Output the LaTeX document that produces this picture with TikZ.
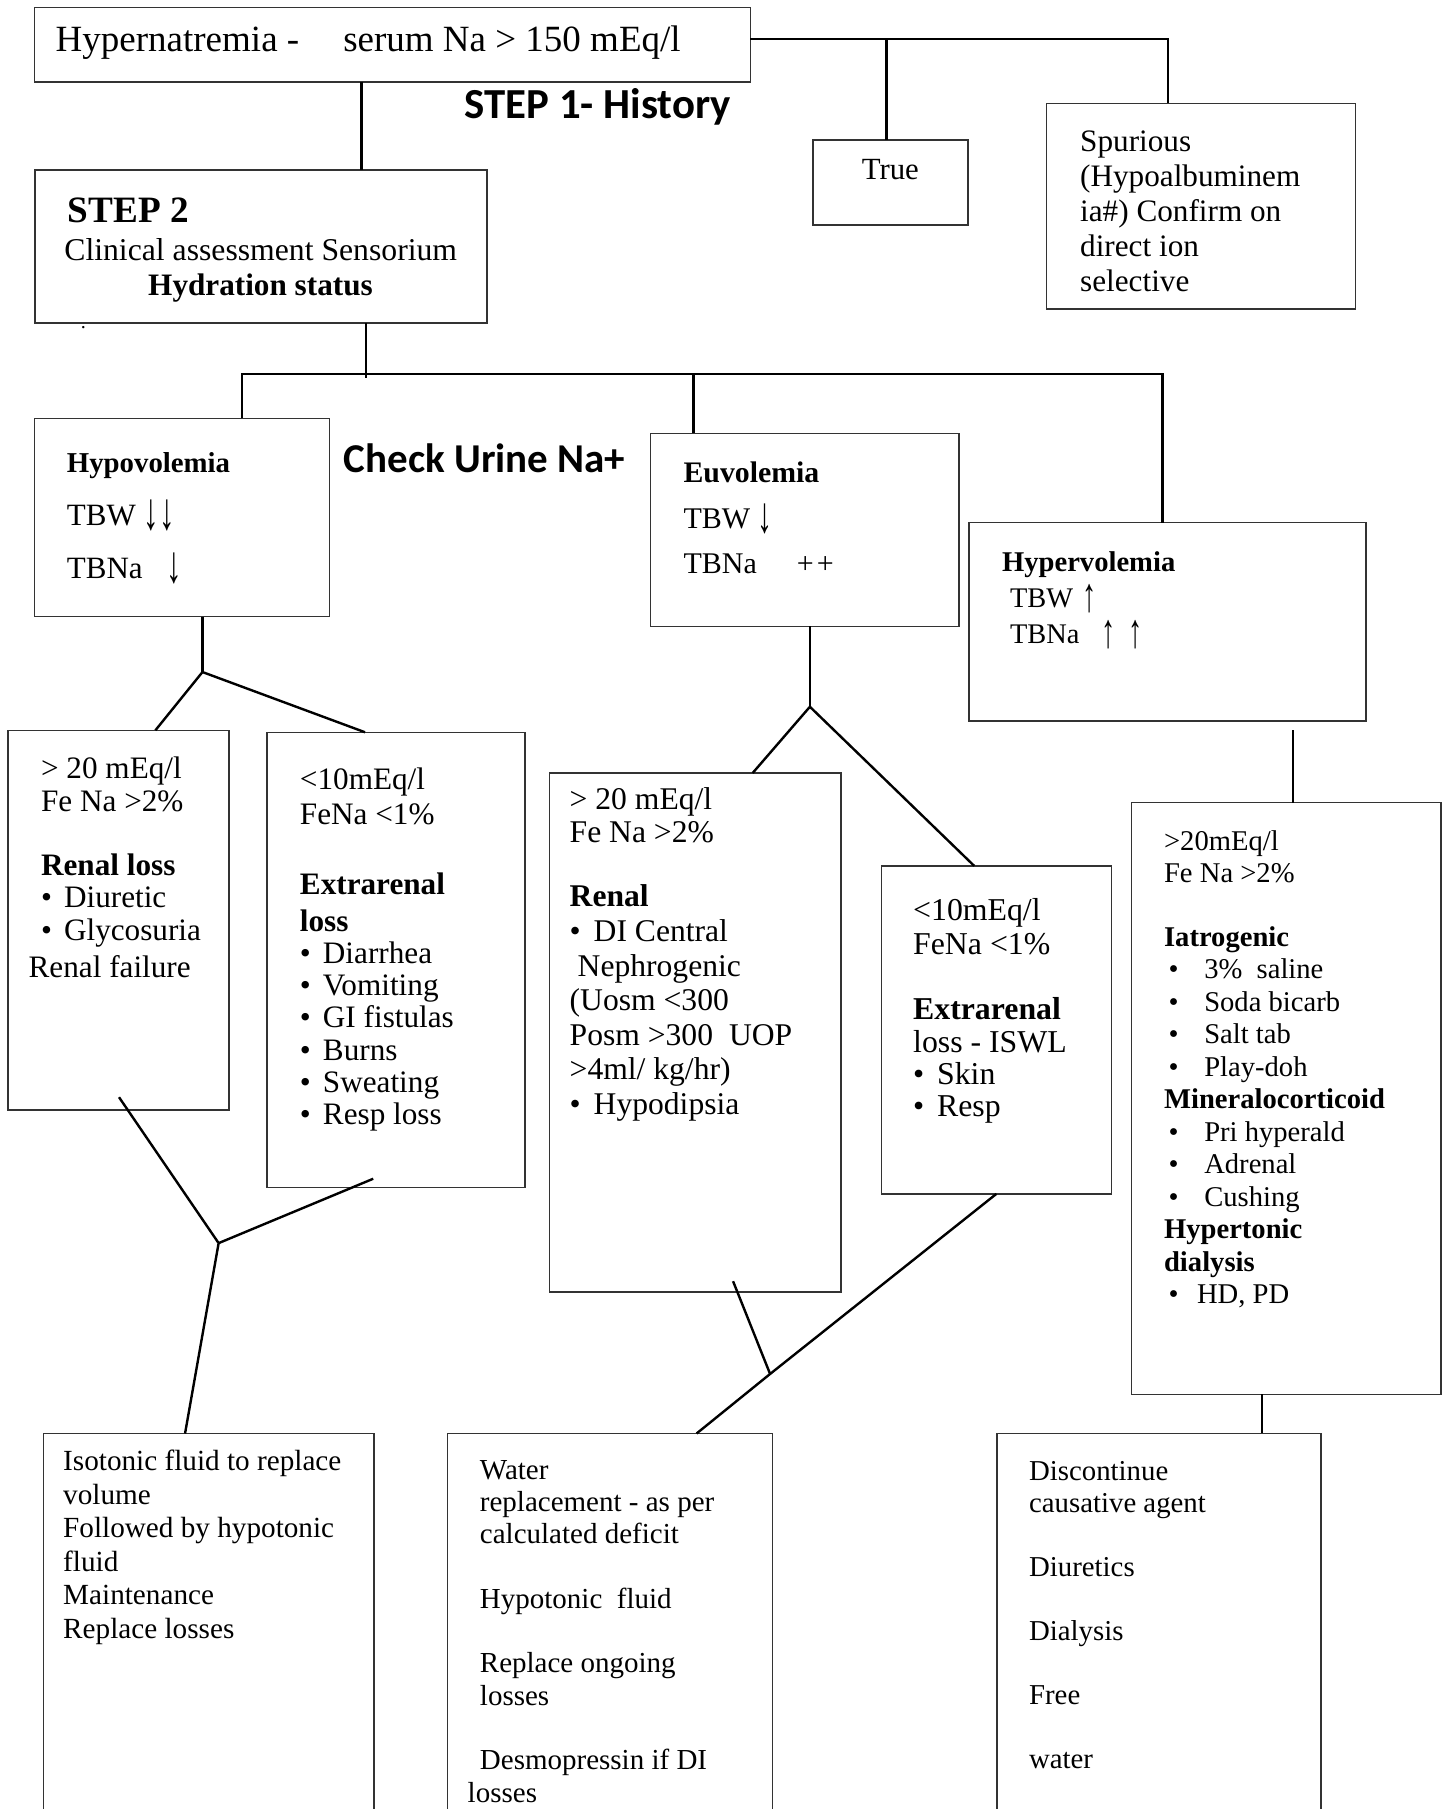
\documentclass[tikz,border=0pt]{standalone}
\usepackage{fontspec}
\usepackage{graphicx}
\setmainfont{Liberation Serif}
\newfontfamily\headfont{Carlito}
\usetikzlibrary{fit,calc}
% bullet of a given width, text follows it
\newcommand\itemdot[1]{\makebox[#1][l]{•}}
% a block of lines whose baseline is the first line's baseline
\newcommand\boxlines[1]{\parbox[t]{260pt}{\raggedright #1}}
% tall thin arrows
\newcommand\arrdn{\raisebox{-2pt}{\scalebox{1}[1.7]{↓}}}
\newcommand\arrup{\raisebox{-2pt}{\scalebox{1}[1.7]{↑}}}

\begin{document}
\begin{tikzpicture}[
  x=0.57675pt, y=-0.57675pt,
  box/.style={draw=black!80, line width=0.7pt, inner sep=0pt, outer sep=0pt},
  link/.style={draw=black, line width=1.2pt},
  txt/.style={anchor=base west, inner sep=0pt, outer sep=0pt},
  ctxt/.style={anchor=base, inner sep=0pt, outer sep=0pt},
  head/.style={font=\headfont\bfseries\fontsize{#1}{24pt}\selectfont}
]
\useasboundingbox (0,0) rectangle (1251,1568);

% ---------- boxes ----------
\node[box, fit={(30,6.4) (650.5,71)}] (top) {};
\node[box, fit={(704.8,121.4) (839,195)}] (true) {};
\node[box, fit={(907.3,89.6) (1175,268)}] (spur) {};
\node[box, fit={(30.3,147.4) (422,280)}] (step2) {};
\node[box, fit={(30,362.7) (285.6,534.6)}] (hypo) {};
\node[box, fit={(563.6,375.6) (831.4,543)}] (eu) {};
\node[box, fit={(840,453) (1184,624.8)}] (hyper) {};
\node[box, fit={(6.8,633) (198.5,962)}] (rl) {};
\node[box, fit={(231.6,634.7) (455,1029.5)}] (er) {};
\node[box, fit={(476.5,670) (729,1120)}] (m1) {};
\node[box, fit={(763.8,750.5) (963.5,1034.8)}] (m2) {};
\node[box, fit={(981,695.6) (1249,1208.5)}] (iat) {};
\node[box, fit={(37.5,1242.5) (324,1600)}] (b1) {};
\node[box, fit={(388,1242.5) (669.8,1600)}] (b2) {};
\node[box, fit={(864,1242.5) (1145,1600)}] (b3) {};

% ---------- texts ----------
\node[txt, font=\fontsize{18.5pt}{22pt}\selectfont] (topT) at (48.3,44.8)
  {Hypernatremia -\hspace{22pt}serum Na > 150 mEq/l};
\node[txt, head=21.4pt] (hist) at (403,103) {STEP 1- History};
\node[txt, font=\fontsize{15.4pt}{18pt}\selectfont] (trueT) at (747,156) {True};
\node[txt, font=\fontsize{15.6pt}{17.5pt}\selectfont] (spurT) at (936.3,131.5)
  {\boxlines{Spurious\\ (Hypoalbuminem\\ ia\#) Confirm on\\ direct ion\\ selective}};

\node[txt, font=\bfseries\fontsize{18.6pt}{22pt}\selectfont] (s2T) at (58.8,193) {STEP 2};
\node[ctxt, font=\fontsize{15.85pt}{18pt}\selectfont] (clinT) at (226,225.4) {Clinical assessment Sensorium};
\node[ctxt, font=\bfseries\fontsize{15.6pt}{18pt}\selectfont] (hydT) at (225.8,255.7) {Hydration status};
\node[txt, font=\fontsize{10pt}{10pt}\selectfont] (dot) at (70,285) {.};

\node[txt, head=20.5pt] (urine) at (298,409.8) {Check Urine Na+};

\node[txt, font=\fontsize{15.5pt}{26.3pt}\selectfont] (hypoT) at (58,409.8)
  {\boxlines{{\bfseries\fontsize{14.4pt}{26.3pt}\selectfont Hypovolemia}\\
   TBW \arrdn\arrdn\\ TBNa\hspace{12pt}\arrdn}};
\node[txt, font=\fontsize{15pt}{22.7pt}\selectfont] (euT) at (592.5,418.4)
  {\boxlines{{\bfseries\fontsize{14.9pt}{22.7pt}\selectfont Euvolemia}\\
   TBW \arrdn\\ TBNa\hspace{20pt}+\hspace{1.5pt}+}};
\node[txt, font=\fontsize{14.2pt}{17.9pt}\selectfont] (hyperT) at (868.6,495.6)
  {\boxlines{{\bfseries\fontsize{14.3pt}{17.9pt}\selectfont Hypervolemia}\\
   \hspace*{4pt}TBW\hspace{4.5pt}\arrup\\ \hspace*{4pt}TBNa\hspace{11pt}\arrup\hspace{6.5pt}\arrup}};

\node[txt, font=\fontsize{15.6pt}{16.15pt}\selectfont] (rlT) at (35.6,675)
  {\boxlines{> 20 mEq/l\\ Fe Na >2\%\\[16.15pt]
   \textbf{Renal loss}\\ \itemdot{11.5pt}Diuretic\\ \itemdot{11.5pt}Glycosuria\\[2.3pt]
   \hspace*{-6.2pt}Renal failure}};
\node[txt, font=\fontsize{15.6pt}{16.15pt}\selectfont] (erT) at (260,684)
  {\boxlines{<10mEq/l\\[1.7pt] FeNa <1\%\\[18.5pt]
   \textbf{Extrarenal}\\[2.3pt] \textbf{loss}\\
   \itemdot{11.5pt}Diarrhea\\ \itemdot{11.5pt}Vomiting\\ \itemdot{11.5pt}GI fistulas\\
   \itemdot{11.5pt}Burns\\ \itemdot{11.5pt}Sweating\\ \itemdot{11.5pt}Resp loss}};
\node[txt, font=\fontsize{15.8pt}{17.3pt}\selectfont] (m1T) at (493.8,702)
  {\boxlines{> 20 mEq/l\\[-1.15pt] Fe Na >2\%\\[15pt]
   \textbf{Renal}\\ \itemdot{12pt}DI Central\\ \hspace*{4pt}Nephrogenic\\
   (Uosm <300\\ Posm >300\hspace{8pt}UOP\\ >4ml/ kg/hr)\\ \itemdot{12pt}Hypodipsia}};
\node[txt, font=\fontsize{15.9pt}{16.15pt}\selectfont] (m2T) at (791.5,797.6)
  {\boxlines{<10mEq/l\\[0.8pt] FeNa <1\%\\[16.7pt]
   \textbf{Extrarenal}\\ loss - ISWL\\ \itemdot{12pt}Skin\\ \itemdot{12pt}Resp}};
\node[txt, font=\fontsize{14.3pt}{16.25pt}\selectfont] (iatT) at (1009,737)
  {\boxlines{>20mEq/l\\ Fe Na >2\%\\[15.5pt]
   \textbf{Iatrogenic}\\
   \hspace*{2.3pt}\itemdot{17.8pt}3\%\ \ saline\\
   \hspace*{2.3pt}\itemdot{17.8pt}Soda bicarb\\
   \hspace*{2.3pt}\itemdot{17.8pt}Salt tab\\
   \hspace*{2.3pt}\itemdot{17.8pt}Play-doh\\
   \textbf{Mineralocorticoid}\\
   \hspace*{2.3pt}\itemdot{17.8pt}Pri hyperald\\
   \hspace*{2.3pt}\itemdot{17.8pt}Adrenal\\
   \hspace*{2.3pt}\itemdot{17.8pt}Cushing\\
   \textbf{Hypertonic}\\ \textbf{dialysis}\\
   \hspace*{2.3pt}\itemdot{14.2pt}HD, PD}};

\node[txt, font=\fontsize{14.6pt}{16.7pt}\selectfont] (b1T) at (54.8,1275)
  {\boxlines{Isotonic fluid to replace\\ volume\\ Followed by hypotonic\\ fluid\\
   Maintenance\\ Replace losses}};
\node[txt, font=\fontsize{14.5pt}{16.15pt}\selectfont] (b2T) at (416,1282)
  {\boxlines{Water\\ replacement - as per\\ calculated deficit\\[16.15pt]
   Hypotonic\ \ fluid\\[16.15pt] Replace ongoing\\ losses\\[16.15pt]
   Desmopressin if DI\\ \hspace*{-6.1pt}losses}};
\node[txt, font=\fontsize{14.4pt}{16pt}\selectfont] (b3T) at (892,1283)
  {\boxlines{Discontinue\\ causative agent\\[16pt] Diuretics\\[16pt] Dialysis\\[16pt]
   Free\\[16pt] water}};

% ---------- connectors ----------
\coordinate (tr) at (1012.5,34);
\coordinate (tT) at (768.3,34);
\draw[link] (top.east |- tr) -- (tr) -- (spur.north -| tr);
\draw[link] (tT) -- (true.north -| tT);

\coordinate (s12) at (313.5,0);
\draw[link] (top.south -| s12) -- (step2.north -| s12);

\coordinate (s2x) at (317,328);
\coordinate (busL) at (210,324);
\coordinate (busR) at (1007.5,324);
\coordinate (busE) at (601,324);
\draw[link] (step2.south -| s2x) -- (s2x);
\draw[link] (hypo.north -| busL) -- (busL) -- (busR) -- (hyper.north -| busR);
\draw[link] (busE) -- (eu.north -| busE);

% hypovolemia branch
\coordinate (jH) at (175.5,582.5);
\coordinate (fkL) at (134.7,0);
\coordinate (fkR) at (316.4,0);
\draw[link] (hypo.south -| jH) -- (jH);
\draw[link] (jH) -- (rl.north -| fkL);
\draw[link] (jH) -- (er.north -| fkR);
\coordinate (mL) at (189.5,1077.5);
\coordinate (fkB1) at (160.4,0);
\draw[link] ($(rl.south)+(0.5,-11)$) -- (mL) -- (b1.north -| fkB1);
\draw[link] ($(er.south)+(-19.8,-7.8)$) -- (mL);

% euvolemia branch
\coordinate (jE) at (702,612.6);
\coordinate (fkM1) at (652.4,0);
\coordinate (fkM2) at (844.4,0);
\draw[link] (eu.south -| jE) -- (jE);
\draw[link] (jE) -- (m1.north -| fkM1);
\draw[link] (jE) -- (m2.north -| fkM2);
\coordinate (mM) at (667.5,1190.9);
\coordinate (fkB2) at (603.8,0);
\draw[link] ($(m1.south)+(32.65,-9.5)$) -- (mM);
\draw[link] (m2.south) -- (mM) -- (b2.north -| fkB2);

% hypervolemia branch
\coordinate (hv) at (1120.7,633);
\coordinate (iv) at (1093.8,0);
\draw[link] (hv) -- (iat.north -| hv);
\draw[link] (iat.south -| iv) -- (b3.north -| iv);
\end{tikzpicture}
\end{document}
